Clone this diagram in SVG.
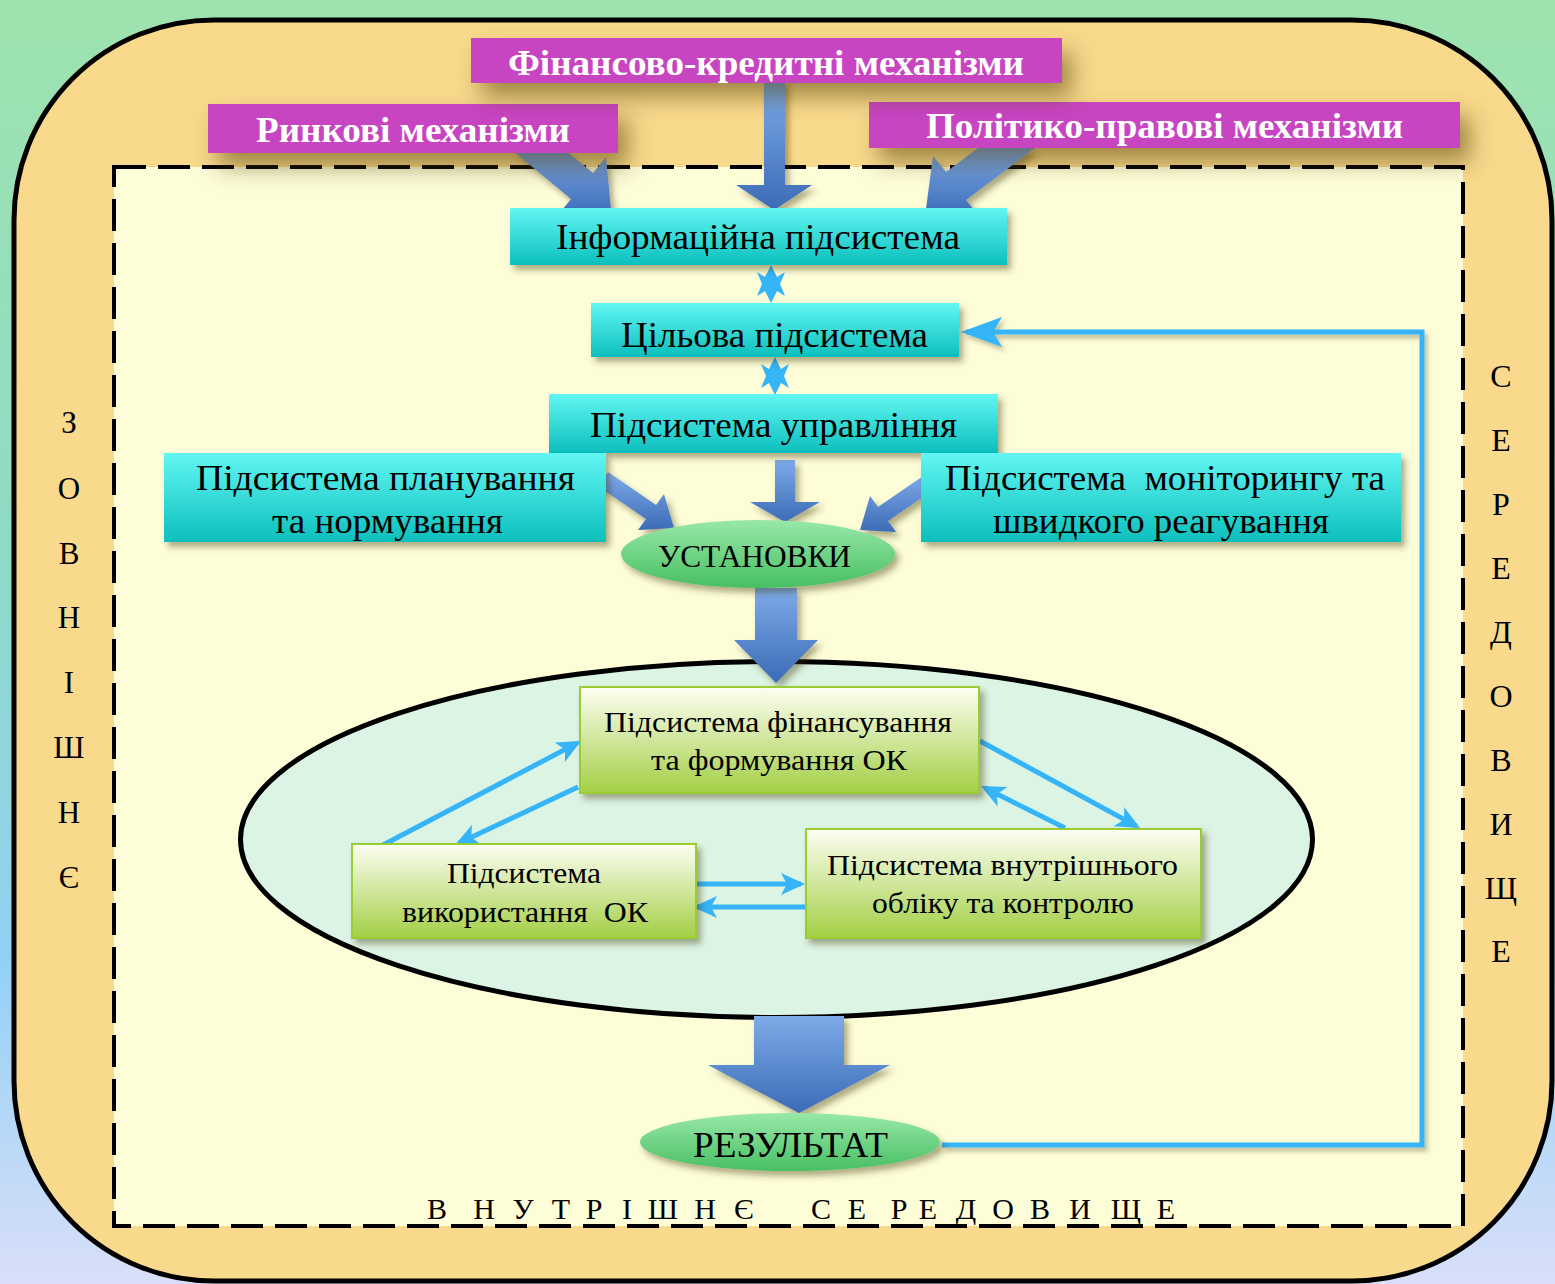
<svg xmlns="http://www.w3.org/2000/svg" width="1555" height="1284" viewBox="0 0 1555 1284">
<defs>
<linearGradient id="bg" x1="0" y1="0" x2="0" y2="1">
<stop offset="0" stop-color="#9ee3ae"/><stop offset="0.45" stop-color="#8fdac9"/><stop offset="0.75" stop-color="#93d1f5"/><stop offset="1" stop-color="#d9dff9"/>
</linearGradient>
<linearGradient id="cyan" x1="0" y1="0" x2="0" y2="1">
<stop offset="0" stop-color="#62f6f3"/><stop offset="1" stop-color="#0cbfbc"/>
</linearGradient>
<linearGradient id="blue" x1="0" y1="0" x2="0" y2="1">
<stop offset="0" stop-color="#7eabe9"/><stop offset="1" stop-color="#3c6bb6"/>
</linearGradient>
<linearGradient id="green" x1="0" y1="0" x2="0" y2="1">
<stop offset="0" stop-color="#98e8a8"/><stop offset="1" stop-color="#48bf62"/>
</linearGradient>
<linearGradient id="lime" x1="0" y1="0" x2="0" y2="1">
<stop offset="0" stop-color="#fdfef3"/><stop offset="1" stop-color="#a3cf45"/>
</linearGradient>
<filter id="bigsh" x="-20%" y="-40%" width="150%" height="220%">
<feDropShadow dx="10" dy="14" stdDeviation="11" flood-color="#4a3500" flood-opacity="0.5"/>
</filter>
<filter id="sh" x="-10%" y="-20%" width="125%" height="150%">
<feDropShadow dx="4" dy="5" stdDeviation="3" flood-color="#3a3000" flood-opacity="0.4"/>
</filter>
<filter id="lsh" x="-5%" y="-5%" width="110%" height="110%">
<feDropShadow dx="3" dy="4" stdDeviation="2" flood-color="#3a3000" flood-opacity="0.3"/>
</filter>
<marker id="ah" markerUnits="userSpaceOnUse" viewBox="-2 -13 30 26" markerWidth="30" markerHeight="26" refX="20" refY="0" orient="auto">
<path d="M0,-11 L24,0 L0,11 L6,0 Z" fill="#35b4f8"/>
</marker>
<marker id="ahBig" markerUnits="userSpaceOnUse" viewBox="-2 -17 48 34" markerWidth="48" markerHeight="34" refX="36" refY="0" orient="auto">
<path d="M0,-15 L41,0 L0,15 L9,0 Z" fill="#35b4f8"/>
</marker>
<style>
.t{font-family:"Liberation Serif","Times New Roman",serif;fill:#000}
.w{font-family:"Liberation Serif","Times New Roman",serif;fill:#fff;font-weight:bold;font-size:36px}
.cy{fill:url(#cyan);filter:url(#sh)}
.mg{fill:#c844c2;filter:url(#bigsh)}
.gb{fill:url(#lime);stroke:#9acd32;stroke-width:2;filter:url(#sh)}
.ba{fill:url(#blue);filter:url(#sh)}
.tl{fill:none;stroke:#35b4f8;stroke-width:5}
.star{fill:#35b4f8}
</style>
</defs>
<rect width="1555" height="1284" fill="url(#bg)"/>
<g id="outer">
<rect x="14" y="20" width="1538" height="1261" rx="200" ry="200" fill="#f9d98b" stroke="#000" stroke-width="5"/>
</g>
<g id="inner-env">
<rect x="114" y="167" width="1349" height="1059" fill="#fdfdd8" stroke="#000" stroke-width="4" stroke-dasharray="32 12"/>
</g>
<g id="big-ellipse">
<ellipse cx="776.5" cy="839.5" rx="536" ry="178" fill="#dcf4e3" stroke="#000" stroke-width="5"/>
</g>
<g id="connectors">
<polygon class="ba" points="764,80 785,80 785,185 812,185 774,210 736,185 764,185"/>
<polygon class="ba" points="512,150 565,150 593,173 606,157 611,210 558,215 571,199"/>
<polygon class="ba" points="978,148 1035,148 966,200 979,216 926,209 933,156 946,172"/>
<polygon class="star" points="771,265 777,277 785,272 780,284 785,296 777,291 771,303 765,291 757,296 762,284 757,272 765,277"/>
<polygon class="star" points="775,357 781,369 789,364 784,376 789,388 781,383 775,395 769,383 761,388 766,376 761,364 769,369"/>
<polygon class="ba" points="775,460 795,460 795,502 820,502 785,522 750,502 775,502"/>
<polygon class="ba" points="598,486 608,472 656,505 664,494 674,528 638,530 646,519"/>
<polygon class="ba" points="936,488 926,474 878,507 870,496 860,530 896,532 888,521"/>
<polygon class="ba" points="755,588 797,588 797,640 818,640 776,683 734,640 755,640"/>
<polygon class="ba" points="754,1016 844,1016 844,1065 890,1065 799,1113 708,1065 754,1065"/>
<line class="tl" x1="383" y1="845" x2="577.5" y2="742.9" marker-end="url(#ah)"/>
<line class="tl" x1="578" y1="787" x2="458.6" y2="843.3" marker-end="url(#ah)"/>
<line class="tl" x1="980" y1="741" x2="1136.5" y2="826.1" marker-end="url(#ah)"/>
<line class="tl" x1="1065" y1="828" x2="984.6" y2="787.8" marker-end="url(#ah)"/>
<line class="tl" x1="697" y1="884" x2="801" y2="884" marker-end="url(#ah)"/>
<line class="tl" x1="810" y1="907" x2="697" y2="907" marker-end="url(#ah)"/>
<path class="tl" d="M942,1145 H1422 V332 H966" marker-end="url(#ahBig)" filter="url(#lsh)"/>
</g>
<g id="rynkovi">
<rect class="mg" x="208" y="104" width="410" height="49"/>
<text class="w" x="413" y="142" text-anchor="middle" textLength="314" lengthAdjust="spacingAndGlyphs">Ринкові механізми</text>
</g>
<g id="polityko">
<rect class="mg" x="869" y="102" width="591" height="46"/>
<text class="w" x="1164.5" y="138" text-anchor="middle" textLength="477" lengthAdjust="spacingAndGlyphs">Політико-правові механізми</text>
</g>
<g id="finansovo">
<rect class="mg" x="471" y="38" width="591" height="45"/>
<text class="w" x="766" y="75" text-anchor="middle" textLength="516" lengthAdjust="spacingAndGlyphs">Фінансово-кредитні механізми</text>
</g>
<g id="info">
<rect class="cy" x="510" y="208" width="497" height="57"/>
<text class="t" x="758" y="249" font-size="35" text-anchor="middle" textLength="404" lengthAdjust="spacingAndGlyphs">Інформаційна підсистема</text>
</g>
<g id="tsilova">
<rect class="cy" x="591" y="303" width="368" height="54"/>
<text class="t" x="774.5" y="347" font-size="35" text-anchor="middle" textLength="307" lengthAdjust="spacingAndGlyphs">Цільова підсистема</text>
</g>
<g id="upravlinnia">
<rect class="cy" x="549" y="394" width="449" height="59"/>
<text class="t" x="773.5" y="437" font-size="35" text-anchor="middle" textLength="367" lengthAdjust="spacingAndGlyphs">Підсистема управління</text>
</g>
<g id="planuvannia">
<rect class="cy" x="164" y="453" width="442" height="89"/>
<text class="t" x="385.5" y="490" font-size="36" text-anchor="middle" textLength="379" lengthAdjust="spacingAndGlyphs">Підсистема планування</text>
<text class="t" x="387.5" y="533" font-size="36" text-anchor="middle" textLength="231" lengthAdjust="spacingAndGlyphs">та нормування</text>
</g>
<g id="monitoryng">
<rect class="cy" x="921" y="453" width="480" height="89"/>
<text class="t" x="1165" y="490" font-size="36" text-anchor="middle" textLength="440" lengthAdjust="spacingAndGlyphs" xml:space="preserve">Підсистема  моніторингу та</text>
<text class="t" x="1161" y="533" font-size="36" text-anchor="middle" textLength="336" lengthAdjust="spacingAndGlyphs">швидкого реагування</text>
</g>
<g id="ustanovky">
<ellipse cx="758" cy="554" rx="137" ry="34" fill="url(#green)" filter="url(#sh)"/>
<text class="t" x="754.5" y="567" font-size="32" text-anchor="middle" textLength="193" lengthAdjust="spacingAndGlyphs">УСТАНОВКИ</text>
</g>
<g id="finansuvannia">
<rect class="gb" x="580" y="687" width="399" height="106"/>
<text class="t" x="778" y="732" font-size="30" text-anchor="middle" textLength="348" lengthAdjust="spacingAndGlyphs">Підсистема фінансування</text>
<text class="t" x="779" y="770" font-size="30" text-anchor="middle" textLength="256" lengthAdjust="spacingAndGlyphs">та формування ОК</text>
</g>
<g id="vykorystannia">
<rect class="gb" x="352" y="844" width="344" height="94"/>
<text class="t" x="524" y="883" font-size="30" text-anchor="middle" textLength="154" lengthAdjust="spacingAndGlyphs">Підсистема</text>
<text class="t" x="525" y="922" font-size="30" text-anchor="middle" textLength="246" lengthAdjust="spacingAndGlyphs" xml:space="preserve">використання  ОК</text>
</g>
<g id="vnutrishnoho">
<rect class="gb" x="806" y="829" width="395" height="109"/>
<text class="t" x="1002.5" y="875" font-size="30" text-anchor="middle" textLength="351" lengthAdjust="spacingAndGlyphs">Підсистема внутрішнього</text>
<text class="t" x="1003" y="913" font-size="30" text-anchor="middle" textLength="262" lengthAdjust="spacingAndGlyphs">обліку та контролю</text>
</g>
<g id="rezultat">
<ellipse cx="790" cy="1142" rx="150" ry="29" fill="url(#green)" filter="url(#sh)"/>
<text class="t" x="790.5" y="1157" font-size="35" text-anchor="middle" textLength="195" lengthAdjust="spacingAndGlyphs">РЕЗУЛЬТАТ</text>
</g>
<g id="labels">
<text class="t" y="1219" font-size="30" text-anchor="middle" xml:space="preserve" x="437 460 484 503 523 542 561 578 594 610 627 645 663 684 705 724 744 770 783 796 821 839 857 878 899 913 928 947 966 985 1003 1021 1040 1060 1080 1103 1126 1146 1166">В Н У Т Р І Ш Н Є   С Е Р Е Д О В И Щ Е</text>
<g class="t" font-size="31" text-anchor="middle">
<text x="69" y="433">З</text><text x="69" y="499">О</text><text x="69" y="564">В</text><text x="69" y="628">Н</text><text x="69" y="693">І</text><text x="69" y="758">Ш</text><text x="69" y="823">Н</text><text x="69" y="888">Є</text>
</g>
<g class="t" font-size="32" text-anchor="middle">
<text x="1501" y="387">С</text><text x="1501" y="451">Е</text><text x="1501" y="515">Р</text><text x="1501" y="579">Е</text><text x="1501" y="643">Д</text><text x="1501" y="707">О</text><text x="1501" y="771">В</text><text x="1501" y="835">И</text><text x="1501" y="899">Щ</text><text x="1501" y="962">Е</text>
</g>
</g>
</svg>
